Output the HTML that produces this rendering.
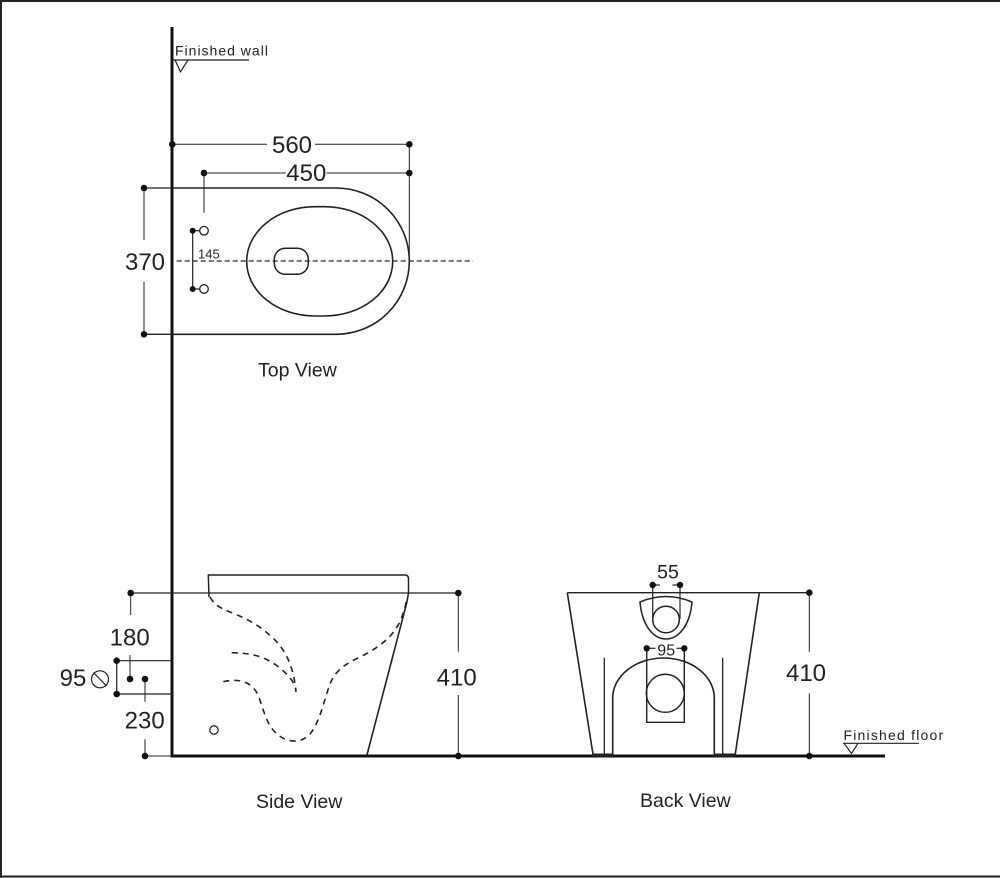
<!DOCTYPE html>
<html>
<head>
<meta charset="utf-8">
<style>
html,body{margin:0;padding:0;background:#fff;}
svg{display:block;}
text{font-family:"Liberation Sans",Arial,sans-serif;fill:#222;}
</style>
</head>
<body>
<svg width="1000" height="878" viewBox="0 0 1000 878" xmlns="http://www.w3.org/2000/svg">
<rect x="0" y="0" width="1000" height="878" fill="#fff"/>
<!-- border -->
<line x1="0" y1="1" x2="1000" y2="1" stroke="#222" stroke-width="2"/>
<line x1="1" y1="0" x2="1" y2="878" stroke="#222" stroke-width="2"/>
<line x1="0" y1="876.5" x2="1000" y2="876.5" stroke="#222" stroke-width="2"/>

<!-- wall -->
<line x1="172" y1="27" x2="172" y2="757.5" stroke="#111" stroke-width="3"/>
<!-- floor -->
<line x1="170.5" y1="756" x2="885" y2="756" stroke="#111" stroke-width="3"/>

<!-- Finished wall -->
<text x="175" y="55.7" font-size="14" letter-spacing="1">Finished wall</text>
<line x1="172" y1="60" x2="249" y2="60" stroke="#222" stroke-width="1.2"/>
<polyline points="175,60 180.5,71.7 188,60" fill="none" stroke="#222" stroke-width="1.2"/>

<!-- Finished floor -->
<text x="843.5" y="740" font-size="14" letter-spacing="1.2">Finished floor</text>
<line x1="843" y1="743.3" x2="919" y2="743.3" stroke="#222" stroke-width="1.2"/>
<polyline points="844,743.3 851.5,753.5 858,743.3" fill="none" stroke="#222" stroke-width="1.2"/>

<g stroke="#222" fill="none">
<!-- ===== TOP VIEW ===== -->
<!-- 560 dim -->
<line x1="172" y1="144.3" x2="267" y2="144.3" stroke-width="1"/>
<line x1="315" y1="144.3" x2="409.3" y2="144.3" stroke-width="1"/>
<line x1="409.3" y1="144.3" x2="409.3" y2="261" stroke-width="1"/>
<!-- 450 dim -->
<line x1="204" y1="173" x2="285.7" y2="173" stroke-width="1"/>
<line x1="326.7" y1="173" x2="409.3" y2="173" stroke-width="1"/>
<line x1="204" y1="173" x2="204" y2="212.7" stroke-width="1"/>
<!-- 370 dim -->
<line x1="144" y1="188" x2="172" y2="188" stroke-width="1.3"/>
<line x1="144" y1="334.3" x2="172" y2="334.3" stroke-width="1.3"/>
<line x1="144" y1="188" x2="144" y2="240" stroke-width="1"/>
<line x1="144" y1="281.7" x2="144" y2="334.3" stroke-width="1"/>
<!-- outer D shape -->
<path d="M172,188 L336.2,188 A73.15,73.15 0 0 1 336.2,334.3 L172,334.3" stroke-width="1.6"/>
<!-- inner oval -->
<rect x="246.7" y="206.7" width="146" height="109.3" rx="68" ry="54.6" stroke-width="1.6"/>
<!-- small rounded rect -->
<rect x="274.3" y="248.3" width="34" height="26" rx="11" ry="11" stroke-width="1.5"/>
<!-- centerline -->
<line x1="176.7" y1="261" x2="473" y2="261" stroke-width="1.2" stroke-dasharray="5,3"/>
<!-- 145 -->
<line x1="192.7" y1="230.7" x2="192.7" y2="289" stroke-width="1.2"/>
<line x1="192.7" y1="230.7" x2="200" y2="230.7" stroke-width="1.2"/>
<line x1="192.7" y1="289" x2="200" y2="289" stroke-width="1.2"/>
<circle cx="204" cy="230.7" r="4.3" stroke-width="1.3"/>
<circle cx="204" cy="289" r="4.3" stroke-width="1.3"/>

<!-- ===== SIDE VIEW ===== -->
<!-- seat -->
<path d="M209,597 L208.3,575 L405,575 Q408.5,575 408.5,579 L408.5,593" stroke-width="1.5"/>
<!-- top dim line -->
<line x1="130.7" y1="593" x2="458.3" y2="593" stroke-width="1.3"/>
<!-- body right side -->
<path d="M408.5,593 L406.7,603 L366.7,756" stroke-width="1.6"/>
<!-- dashed curves -->
<path d="M210,597 C215,606 222,609 235,614 C252,621 264,629 276,641 C289,655 294,672 296,692" stroke-width="1.6" stroke-dasharray="6,5"/>
<path d="M231.7,652.7 C248,653 262,655 276,665 C288,674 294,681 296,690" stroke-width="1.6" stroke-dasharray="6,5"/>
<path d="M223.3,681.7 C240,678 252,682 258,695 C264,710 266,724 276,733 C285,742 300,745 310,734 C320,722 324,700 330,684 C335,671 345,664 360,657 C378,648 392,638 400,621.7 C404,612 406,605 406.7,598" stroke-width="1.6" stroke-dasharray="6,5"/>
<!-- small circle -->
<circle cx="214" cy="730" r="4.2" stroke-width="1.3"/>
<!-- 410 side dim -->
<line x1="458.3" y1="593" x2="458.3" y2="651.7" stroke-width="1"/>
<line x1="458.3" y1="695" x2="458.3" y2="756" stroke-width="1"/>
<!-- 180 -->
<line x1="130.7" y1="593" x2="130.7" y2="615" stroke-width="1"/>
<line x1="130" y1="655" x2="130" y2="679" stroke-width="1"/>
<!-- 95 -->
<line x1="116.7" y1="660.7" x2="116.7" y2="694" stroke-width="1.2"/>
<line x1="116.7" y1="660.7" x2="172" y2="660.7" stroke-width="1.2"/>
<line x1="116.7" y1="694" x2="172" y2="694" stroke-width="1.2"/>
<circle cx="100" cy="679.3" r="8.5" stroke-width="1.2"/>
<line x1="93.5" y1="672.5" x2="106.5" y2="686" stroke-width="1.2"/>
<!-- 230 -->
<line x1="145" y1="679" x2="145" y2="701.7" stroke-width="1"/>
<line x1="145" y1="739.3" x2="145" y2="756" stroke-width="1"/>
<line x1="145" y1="756" x2="172" y2="756" stroke-width="1"/>

<!-- ===== BACK VIEW ===== -->
<line x1="567.3" y1="592.7" x2="809.3" y2="592.7" stroke-width="1.4"/>
<line x1="567.3" y1="592.7" x2="593.3" y2="756" stroke-width="1.6"/>
<line x1="759.3" y1="592.7" x2="735" y2="756" stroke-width="1.6"/>
<line x1="604.3" y1="657.7" x2="604.3" y2="756" stroke-width="1.3"/>
<line x1="722.7" y1="657.7" x2="722.7" y2="756" stroke-width="1.3"/>
<path d="M612.7,756 L612.7,698 A50.8,40 0 0 1 714.3,698 L714.3,756" stroke-width="1.6"/>
<line x1="593" y1="755" x2="613" y2="755" stroke-width="3"/>
<line x1="714" y1="755" x2="735" y2="755" stroke-width="3"/>
<!-- cup -->
<path d="M640,602 Q666,591 692,602 C690,625 679,639 666,639 C653,639 642,625 640,602 Z" stroke-width="1.5"/>
<circle cx="666" cy="619.5" r="13.3" stroke-width="1.5"/>
<line x1="652.7" y1="585" x2="652.7" y2="619" stroke-width="1.2"/>
<line x1="680" y1="585" x2="680" y2="619" stroke-width="1.2"/>
<line x1="652.7" y1="585" x2="660" y2="585" stroke-width="1.2"/>
<line x1="672.5" y1="585" x2="680" y2="585" stroke-width="1.2"/>
<!-- 95 rect -->
<path d="M646.7,648.3 L646.7,722.3 L684.3,722.3 L684.3,648.3" stroke-width="1.4"/>
<line x1="646.7" y1="648.3" x2="655.5" y2="648.3" stroke-width="1.2"/>
<line x1="676.5" y1="648.3" x2="684.3" y2="648.3" stroke-width="1.2"/>
<circle cx="665.3" cy="693.3" r="19" stroke-width="1.5"/>
<!-- 410 back dim -->
<line x1="809.3" y1="592.7" x2="809.3" y2="651.7" stroke-width="1"/>
<line x1="809.3" y1="693.3" x2="809.3" y2="756" stroke-width="1"/>
</g>

<!-- dots -->
<g fill="#111">
<circle cx="172.3" cy="144.3" r="3.3"/>
<circle cx="409.3" cy="144.3" r="3.3"/>
<circle cx="204" cy="173" r="3.3"/>
<circle cx="409.3" cy="173" r="3.3"/>
<circle cx="144" cy="188" r="3.3"/>
<circle cx="144" cy="334.3" r="3.3"/>
<circle cx="192.7" cy="230.7" r="3"/>
<circle cx="192.7" cy="289" r="3"/>
<circle cx="130.7" cy="593" r="3.3"/>
<circle cx="458.3" cy="593" r="3.3"/>
<circle cx="458.3" cy="756" r="3.3"/>
<circle cx="116.7" cy="660.7" r="3.3"/>
<circle cx="116.7" cy="694" r="3.3"/>
<circle cx="130" cy="679" r="3.3"/>
<circle cx="145" cy="679" r="3.3"/>
<circle cx="145" cy="756" r="3.3"/>
<circle cx="809.3" cy="592.7" r="3.3"/>
<circle cx="809.3" cy="756" r="3.3"/>
<circle cx="652.7" cy="585" r="3.2"/>
<circle cx="680" cy="585" r="3.2"/>
<circle cx="646.7" cy="648.3" r="3.2"/>
<circle cx="684.3" cy="648.3" r="3.2"/>
</g>

<!-- dimension numbers -->
<text x="292" y="153" font-size="24" text-anchor="middle">560</text>
<text x="306.3" y="181" font-size="24" text-anchor="middle">450</text>
<text x="145" y="270" font-size="24" text-anchor="middle">370</text>
<text x="198" y="258.5" font-size="13">145</text>
<text x="456.7" y="685.5" font-size="24" text-anchor="middle">410</text>
<text x="129.7" y="645.5" font-size="24" text-anchor="middle">180</text>
<text x="73" y="686" font-size="24" text-anchor="middle">95</text>
<text x="144.7" y="728.5" font-size="24" text-anchor="middle">230</text>
<text x="806" y="681" font-size="24" text-anchor="middle">410</text>
<text x="668" y="578.5" font-size="19.5" text-anchor="middle">55</text>
<text x="666.2" y="655.5" font-size="16" text-anchor="middle">95</text>

<!-- view labels -->
<text x="258" y="376.7" font-size="19.5">Top View</text>
<text x="256" y="808" font-size="19.5">Side View</text>
<text x="640" y="807" font-size="19.5">Back View</text>
</svg>
</body>
</html>
